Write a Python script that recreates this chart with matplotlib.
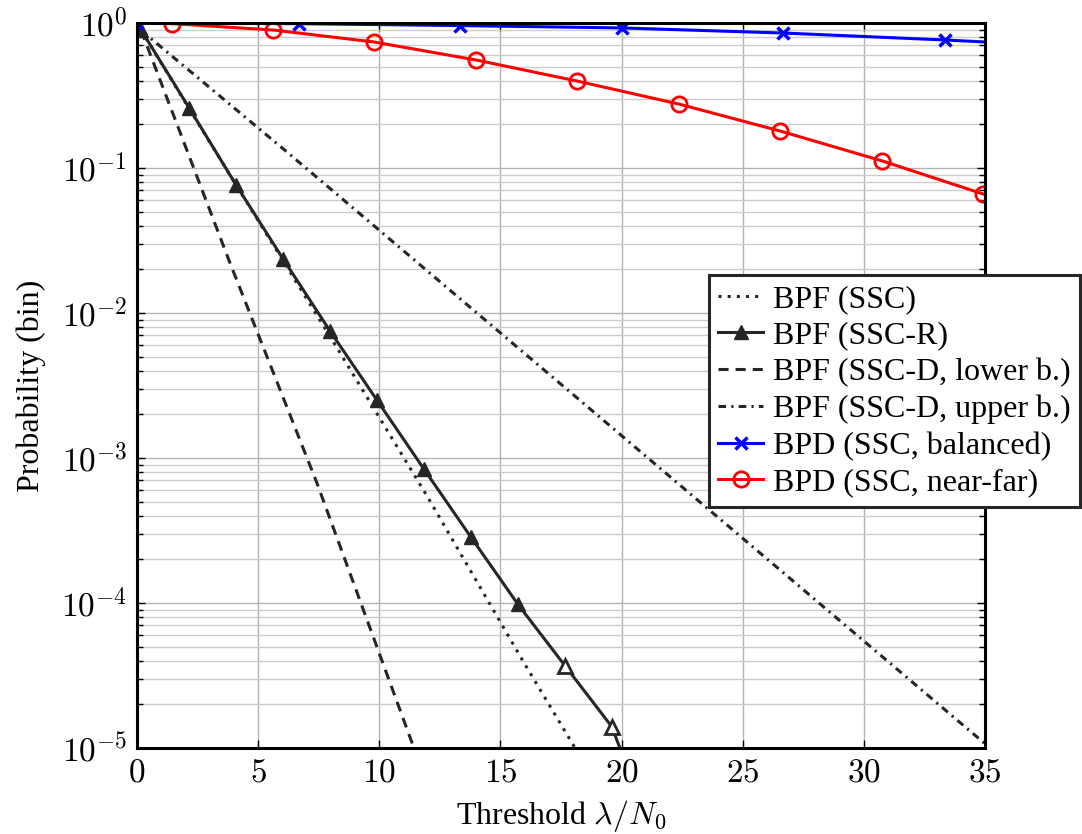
import matplotlib
matplotlib.use("Agg")
import matplotlib.pyplot as plt
from matplotlib.ticker import LogLocator, NullFormatter, FixedLocator

plt.rcParams['font.family'] = ['Liberation Serif', 'DejaVu Serif']
plt.rcParams['mathtext.fontset'] = 'cm'

# BPF (SSC) - dotted
ssc_x = [0.17, 4.1, 8.0, 12.0, 16.0, 18.08]
ssc_p = [0.89, 0.0759, 0.00676, 0.000537, 3.8e-5, 1e-5]

# BPF (SSC-R) - solid with triangles (last point is the line end)
sscr_x = [0.17, 2.15, 4.09, 6.03, 7.97, 9.9, 11.84, 13.78, 15.72, 17.66, 19.6, 19.93]
sscr_p = [0.895, 0.26, 0.0764, 0.0236, 0.0075, 0.00251, 0.00084, 0.000285,
          9.8e-5, 3.7e-5, 1.4e-5, 1e-5]

# BPF (SSC-D, lower b.) - dashed
low_x = [0.17, 3.84, 7.43, 11.43]
low_p = [0.89, 0.0221, 6.7e-4, 1e-5]

# BPF (SSC-D, upper b.) - dash dot
up_x = [0.17, 6.19, 35.0]
up_p = [0.89, 0.129, 1.07e-5]

# BPD (SSC, balanced)
bal_x = [0.0, 6.67, 13.33, 20.0, 26.67, 33.33, 35.0]
bal_p = [1.0, 0.99, 0.96, 0.925, 0.853, 0.764, 0.74]

# BPD (SSC, near-far)
nf_x = [0.0, 1.44, 5.61, 9.78, 13.99, 18.16, 22.37, 26.54, 30.75, 34.92]
nf_p = [1.0, 0.99, 0.895, 0.74, 0.556, 0.398, 0.276, 0.18, 0.112, 0.0662]

labels = ['BPF (SSC)', 'BPF (SSC-R)', 'BPF (SSC-D, lower b.)',
          'BPF (SSC-D, upper b.)', 'BPD (SSC, balanced)', 'BPD (SSC, near-far)']

dark = '#262626'
lw = 2.2

fig = plt.figure(figsize=(10.82, 8.34), dpi=100)
ax = fig.add_axes([0.1266, 0.1031, 0.7838, 0.8693])

ax.plot(ssc_x, ssc_p, color=dark, lw=lw, ls=(0, (1, 2)), label=labels[0])
ax.plot(sscr_x, sscr_p, color=dark, lw=lw, marker='^', ms=10,
        markevery=list(range(9)), label=labels[1])
ax.plot(sscr_x[9:11], sscr_p[9:11], ls='none', marker='^', ms=10,
        mfc='white', mec=dark, mew=2)
ax.plot(low_x, low_p, color=dark, lw=lw, ls=(0, (3.3, 2.3)), label=labels[2])
ax.plot(up_x, up_p, color=dark, lw=lw, ls=(0, (2.5, 1.7, 0.7, 1.7)), label=labels[3])
ax.plot(bal_x, bal_p, color='#0000ff', lw=lw, marker='x', ms=8, mew=2.5,
        markevery=list(range(6)), label=labels[4])
ax.plot(nf_x, nf_p, color='#ff0000', lw=lw, marker='o', ms=11, mfc='none', mew=2,
        markevery=list(range(1, 10)), label=labels[5])

ax.set_yscale('log')
ax.set_xlim(0, 35)
ax.set_ylim(1e-5, 1)

ax.xaxis.set_major_locator(FixedLocator([0, 5, 10, 15, 20, 25, 30, 35]))
ax.set_xticklabels([r'$%d$' % v for v in [0, 5, 10, 15, 20, 25, 30, 35]])
ax.yaxis.set_major_locator(FixedLocator([1e-5, 1e-4, 1e-3, 1e-2, 1e-1, 1]))
ax.set_yticklabels([r'$10^{%d}$' % k for k in [-5, -4, -3, -2, -1, 0]])
ax.yaxis.set_minor_locator(LogLocator(base=10, subs=range(2, 10), numticks=20))
ax.yaxis.set_minor_formatter(NullFormatter())

ax.tick_params(which='both', direction='in', top=True, right=True,
               labelsize=24, pad=7)
ax.tick_params(which='major', length=6, width=1)
ax.tick_params(which='minor', length=4, width=1)

ax.grid(True, which='major', color='#b3b3b3', lw=1.0)
ax.grid(True, which='minor', axis='y', color='#cccccc', lw=1.0)
ax.set_axisbelow(True)

for s in ax.spines.values():
    s.set_linewidth(2.2)
    s.set_color('black')

ax.set_xlabel(r'Threshold $\lambda/N_0$', fontsize=23, labelpad=7)
ax.set_ylabel('Probability (bin)', fontsize=23, labelpad=11)

leg = ax.legend(loc='upper right', bbox_to_anchor=(1080 / 1082, 1 - 275 / 834),
                bbox_transform=fig.transFigure, fontsize=23, frameon=True,
                fancybox=False, handlelength=1.4, handletextpad=0.3,
                borderpad=0.3, labelspacing=0.23, borderaxespad=0)
leg.get_frame().set_edgecolor('#262626')
leg.get_frame().set_linewidth(2.2)
leg.get_frame().set_alpha(1)

fig.savefig('out.png', dpi=100)
